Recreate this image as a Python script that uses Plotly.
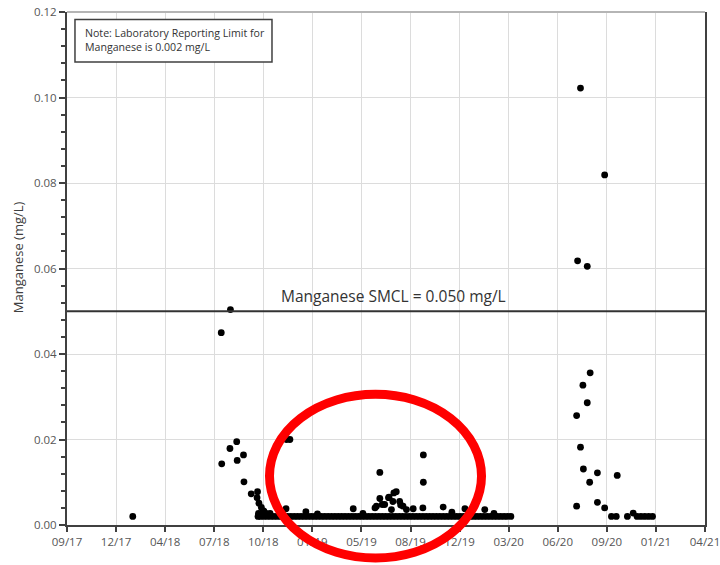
import pandas as pd
import plotly.graph_objects as go

# ---------------- data ----------------
REPORTING_LIMIT = 0.002   # non-detects plotted at the reporting limit (mg/L)
SMCL = 0.050              # Manganese SMCL (mg/L)

detect_dates = [
    "2018-07-26", "2018-07-27", "2018-08-13", "2018-08-14", "2018-08-27", "2018-08-28",
    "2018-09-10", "2018-09-11", "2018-09-26", "2018-10-09", "2018-10-08", "2018-10-12",
    "2018-10-17", "2018-10-22", "2018-10-11", "2018-10-27", "2018-10-20", "2018-11-04",
    "2018-12-07", "2018-12-08", "2018-12-15", "2019-01-17", "2019-02-10", "2019-04-25",
    "2019-05-15", "2019-06-09", "2019-06-12", "2019-06-19", "2019-06-19", "2019-06-24",
    "2019-06-29", "2019-07-07", "2019-07-08", "2019-07-13", "2019-07-16", "2019-07-18",
    "2019-07-23", "2019-07-30", "2019-08-01", "2019-08-06", "2019-08-13", "2019-08-27",
    "2019-09-16", "2019-09-17", "2019-09-17", "2019-10-28", "2019-11-15", "2019-12-12",
    "2020-01-22", "2020-02-10",
    "2020-07-30", "2020-07-30", "2020-08-01", "2020-08-07", "2020-08-07", "2020-08-12",
    "2020-08-13", "2020-08-21", "2020-08-21", "2020-08-26", "2020-08-27", "2020-09-11",
    "2020-09-11", "2020-09-26", "2020-09-26", "2020-10-22", "2020-11-24",
]
detect_values = [
    0.0450, 0.0143, 0.0179, 0.0504, 0.0195, 0.0151,
    0.0164, 0.0101, 0.0073, 0.0078, 0.0064, 0.0051,
    0.0041, 0.0033, 0.0027, 0.0027, 0.0030, 0.0027,
    0.0038, 0.0200, 0.0200, 0.0031, 0.0026, 0.0038,
    0.0027, 0.0040, 0.0044, 0.0123, 0.0062, 0.0048,
    0.0048, 0.0064, 0.0065, 0.0036, 0.0055, 0.0075,
    0.0078, 0.0055, 0.0047, 0.0044, 0.0036, 0.0038,
    0.0040, 0.0164, 0.0100, 0.0042, 0.0030, 0.0038,
    0.0036, 0.0027,
    0.0256, 0.0044, 0.0618, 0.1022, 0.0182, 0.0327,
    0.0131, 0.0605, 0.0286, 0.0100, 0.0356, 0.0122,
    0.0053, 0.0819, 0.0040, 0.0116, 0.0028,
]

nondetect_dates = [
    "2018-01-24",
    "2018-10-10", "2018-10-15", "2018-10-22", "2018-10-29", "2018-11-05", "2018-11-12",
    "2018-11-19", "2018-11-26", "2018-12-03", "2018-12-10", "2018-12-17", "2018-12-24",
    "2018-12-31", "2019-01-07", "2019-01-14", "2019-01-21", "2019-01-28", "2019-02-04",
    "2019-02-11", "2019-02-18", "2019-02-25", "2019-03-04", "2019-03-11", "2019-03-18",
    "2019-03-25", "2019-04-01", "2019-04-08", "2019-04-15", "2019-04-22", "2019-04-29",
    "2019-05-06", "2019-05-13", "2019-05-20", "2019-05-27", "2019-06-03", "2019-06-10",
    "2019-06-17", "2019-06-24", "2019-07-01", "2019-07-08", "2019-07-15", "2019-07-22",
    "2019-07-29", "2019-08-05", "2019-08-12", "2019-08-19", "2019-08-26", "2019-09-02",
    "2019-09-09", "2019-09-16", "2019-09-23", "2019-09-30", "2019-10-07", "2019-10-14",
    "2019-10-21", "2019-10-28", "2019-11-04", "2019-11-11", "2019-11-18", "2019-11-25",
    "2019-12-02", "2019-12-09", "2019-12-16", "2019-12-23", "2019-12-30", "2020-01-06",
    "2020-01-13", "2020-01-20", "2020-01-27", "2020-02-03", "2020-02-10", "2020-02-17",
    "2020-02-24", "2020-03-02", "2020-03-09", "2020-03-16",
    "2020-10-10", "2020-10-20", "2020-11-12", "2020-12-02", "2020-12-10", "2020-12-18",
    "2020-12-26", "2021-01-03",
]

x_tick_labels = ["09/17", "12/17", "04/18", "07/18", "10/18", "01/19", "05/19",
                 "08/19", "12/19", "03/20", "06/20", "09/20", "01/21", "04/21"]
y_tick_vals = [0.00, 0.02, 0.04, 0.06, 0.08, 0.10, 0.12]

NOTE_TEXT = "Note: Laboratory Reporting Limit for<br>Manganese is 0.002 mg/L"
SMCL_TEXT = "Manganese SMCL = 0.050 mg/L"
Y_TITLE = "Manganese (mg/L)"

# ---------------- axis geometry ----------------
AXIS_START = pd.Timestamp("2017-09-10")
TICK_STEP_DAYS = 101.5
tick_positions = [AXIS_START + pd.Timedelta(days=TICK_STEP_DAYS * k) for k in range(len(x_tick_labels))]
tickvals = [t.strftime("%Y-%m-%d %H:%M:%S") for t in tick_positions]
x_range = [(tick_positions[0] - pd.Timedelta(minutes=30)).strftime("%Y-%m-%d %H:%M:%S"),
           (tick_positions[-1] + pd.Timedelta(minutes=30)).strftime("%Y-%m-%d %H:%M:%S")]

FONT = "Open Sans"
AX = "#404040"

xs = detect_dates + nondetect_dates
ys = detect_values + [REPORTING_LIMIT] * len(nondetect_dates)

fig = go.Figure()
fig.add_trace(go.Scatter(
    x=xs, y=ys, mode="markers",
    marker=dict(color="black", size=6.8, line=dict(width=0)),
    showlegend=False, cliponaxis=False,
))

fig.update_layout(
    template="none",
    width=720, height=565,
    margin=dict(l=67, r=15, t=12, b=40, autoexpand=False),
    paper_bgcolor="white", plot_bgcolor="white",
    font=dict(family=FONT, color="#595959", size=11.5),
    showlegend=False,
)

fig.update_xaxes(
    type="date", range=x_range, automargin=False, ticklabeloverflow="allow",
    tickmode="array", tickvals=tickvals, ticktext=x_tick_labels,
    showgrid=True, gridcolor="#dcdcdc", gridwidth=1,
    showline=True, linecolor=AX, linewidth=2,
    ticks="outside", ticklen=5, tickcolor=AX, tickwidth=1.5,
    tickfont=dict(family=FONT, size=11.5, color="#555555"),
    zeroline=False,
)
fig.update_yaxes(
    range=[0, 0.12], automargin=False, ticklabeloverflow="allow",
    tickmode="array", tickvals=y_tick_vals,
    tickformat=".2f",
    showgrid=True, gridcolor="#dcdcdc", gridwidth=1,
    showline=True, linecolor=AX, linewidth=2, mirror=True,
    ticks="outside", ticklen=6, tickcolor=AX, tickwidth=1.5,
    minor=dict(dtick=0.004, ticks="outside", ticklen=4, tickcolor=AX, tickwidth=1.5, showgrid=False),
    tickfont=dict(family=FONT, size=11.5, color="#555555"),
    zeroline=False,
)

# top border (light)
fig.add_shape(type="line", xref="paper", yref="paper", x0=0, x1=1, y0=1, y1=1,
              line=dict(color="#b5b5b5", width=2))

# SMCL line
fig.add_shape(type="line", xref="paper", yref="y", x0=0, x1=1, y0=SMCL, y1=SMCL,
              line=dict(color="#333333", width=2.2))
fig.add_annotation(text=SMCL_TEXT, xref="paper", yref="y", x=0.511, y=SMCL,
                   yshift=15, showarrow=False,
                   font=dict(family=FONT, size=15.5, color="#333333"))

# note box
fig.add_shape(type="rect", xref="paper", yref="paper",
              x0=0.0125, x1=0.3213, y0=0.9027, y1=0.9854,
              line=dict(color="#404040", width=1.5), fillcolor="white")
fig.add_annotation(text=NOTE_TEXT, xref="paper", yref="paper", x=0.0251, y=0.9455,
                   xanchor="left", yanchor="middle", align="left", showarrow=False,
                   font=dict(family=FONT, size=10.6, color="#333333"))

# y axis title
fig.add_annotation(text=Y_TITLE, xref="paper", yref="paper", x=-0.0768, y=0.522,
                   textangle=-90, showarrow=False, xanchor="center", yanchor="middle",
                   font=dict(family=FONT, size=13, color="#404040"))

# red ellipse highlight
fig.add_shape(type="circle", xref="paper", yref="paper", layer="above",
              x0=0.3174, x1=0.6497, y0=-0.0642, y1=0.2549,
              line=dict(color="#ff0000", width=9))

# remove the browser's default 8px page margin so the 720x565 figure fills the window
fig.write_html(
    "out.html",
    config={"displayModeBar": False},
    post_script="document.body.style.margin='0';document.documentElement.style.overflow='hidden';",
)
